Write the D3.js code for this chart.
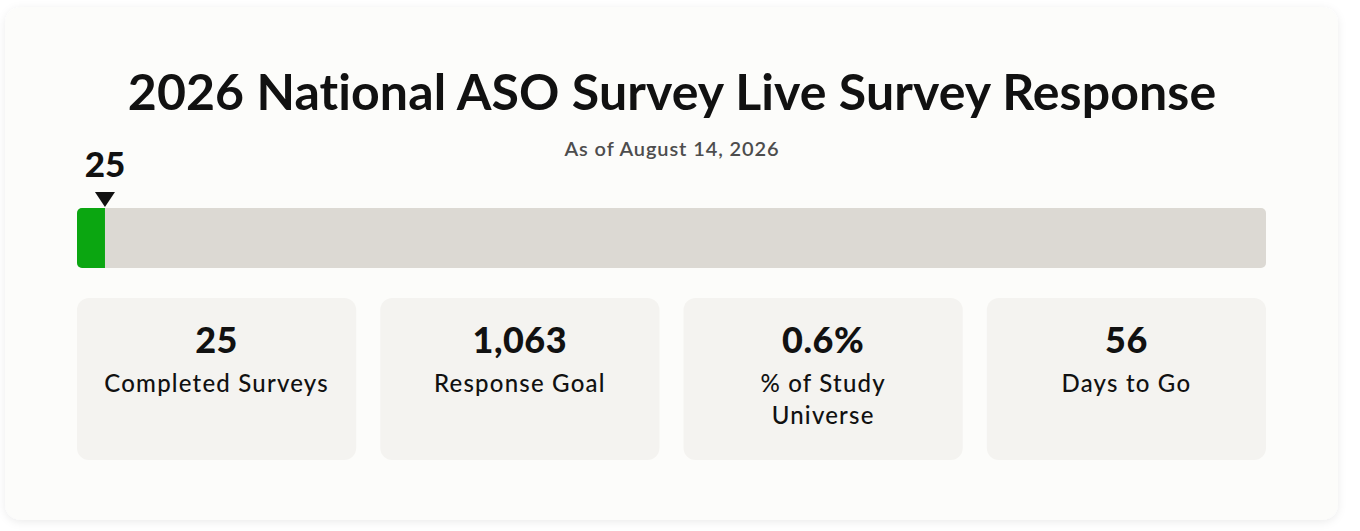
<!DOCTYPE html>
<html lang="en">
<head>
    <meta charset="UTF-8">
    <title>2026 National ASO Survey Live Survey Response</title>
    <script src="https://d3js.org/d3.v7.min.js"></script>
    <style>
        html, body { margin: 0; padding: 0; background: #ffffff; }
        svg { display: block; font-family: "Lato", "Noto Sans", sans-serif; }
    </style>
</head>
<body>
<script>
// data
const title = "2026 National ASO Survey Live Survey Response";
const subtitle = "As of August 14, 2026";
const completed = 25;
const goal = 1063;
const statValues = ["25", "1,063", "0.6%", "56"];
const statLabels = [["Completed Surveys"], ["Response Goal"], ["% of Study", "Universe"], ["Days to Go"]];

const W = 1360, H = 531;
const svg = d3.select("body").append("svg")
    .attr("width", W)
    .attr("height", H);

// card shadow
const defs = svg.append("defs");
const f = defs.append("filter").attr("id", "shadow")
    .attr("x", "-5%").attr("y", "-5%").attr("width", "110%").attr("height", "115%");
f.append("feDropShadow").attr("dx", 0).attr("dy", 2).attr("stdDeviation", 4)
    .attr("flood-color", "#000").attr("flood-opacity", 0.08);

svg.append("rect")
    .attr("x", 5).attr("y", 7)
    .attr("width", 1333).attr("height", 513)
    .attr("rx", 16)
    .attr("fill", "#fcfcfa")
    .attr("filter", "url(#shadow)");

svg.append("text")
    .attr("x", 672).attr("y", 110)
    .attr("text-anchor", "middle")
    .attr("font-size", 50).attr("font-weight", 700)
    .attr("letter-spacing", 0.1)
    .attr("fill", "#111")
    .text(title);

svg.append("text")
    .attr("x", 672).attr("y", 156)
    .attr("text-anchor", "middle")
    .attr("font-size", 20).attr("font-weight", 600)
    .attr("letter-spacing", 0.9)
    .attr("fill", "#4d4d4d")
    .text(subtitle);

// progress bar
const x = d3.scaleLinear().domain([0, goal]).range([77, 1266]);
const barY = 208, barH = 60;

defs.append("clipPath").attr("id", "barclip")
    .append("rect")
    .attr("x", x(0)).attr("y", barY)
    .attr("width", x(goal) - x(0)).attr("height", barH)
    .attr("rx", 5);

const bar = svg.append("g").attr("clip-path", "url(#barclip)");
bar.append("rect")
    .attr("x", x(0)).attr("y", barY)
    .attr("width", x(goal) - x(0)).attr("height", barH)
    .attr("fill", "#dcd9d3");
bar.append("rect")
    .attr("x", x(0)).attr("y", barY)
    .attr("width", x(completed) - x(0)).attr("height", barH)
    .attr("fill", "#0ba611");

// marker
const mx = x(completed);
svg.append("path")
    .attr("d", `M${mx - 10},${barY - 16}L${mx + 10},${barY - 16}L${mx},${barY - 1}Z`)
    .attr("fill", "#111");
svg.append("text")
    .attr("x", mx).attr("y", 177)
    .attr("text-anchor", "middle")
    .attr("font-size", 35).attr("font-weight", 900)
    .attr("fill", "#111")
    .text(completed);

// stat cards
const cx = d3.scaleBand()
    .domain(d3.range(statValues.length))
    .range([77, 1266])
    .paddingInner(0.0795);

const cards = svg.selectAll("g.card")
    .data(statValues)
    .enter().append("g")
    .attr("class", "card")
    .attr("transform", (d, i) => `translate(${cx(i)},298)`);

cards.append("rect")
    .attr("width", cx.bandwidth())
    .attr("height", 162)
    .attr("rx", 12)
    .attr("fill", "#f4f3f0");

cards.append("text")
    .attr("x", cx.bandwidth() / 2).attr("y", 55)
    .attr("text-anchor", "middle")
    .attr("font-size", 36).attr("font-weight", 900)
    .attr("letter-spacing", 0.5)
    .attr("fill", "#111")
    .text(d => d);

cards.each(function(d, i) {
    d3.select(this).selectAll("text.lbl")
        .data(statLabels[i])
        .enter().append("text")
        .attr("class", "lbl")
        .attr("x", cx.bandwidth() / 2)
        .attr("y", (t, j) => 94 + j * 32)
        .attr("text-anchor", "middle")
        .attr("font-size", 24).attr("font-weight", 500)
        .attr("letter-spacing", 1.2)
        .attr("fill", "#111")
        .text(t => t);
});
</script>
</body>
</html>
